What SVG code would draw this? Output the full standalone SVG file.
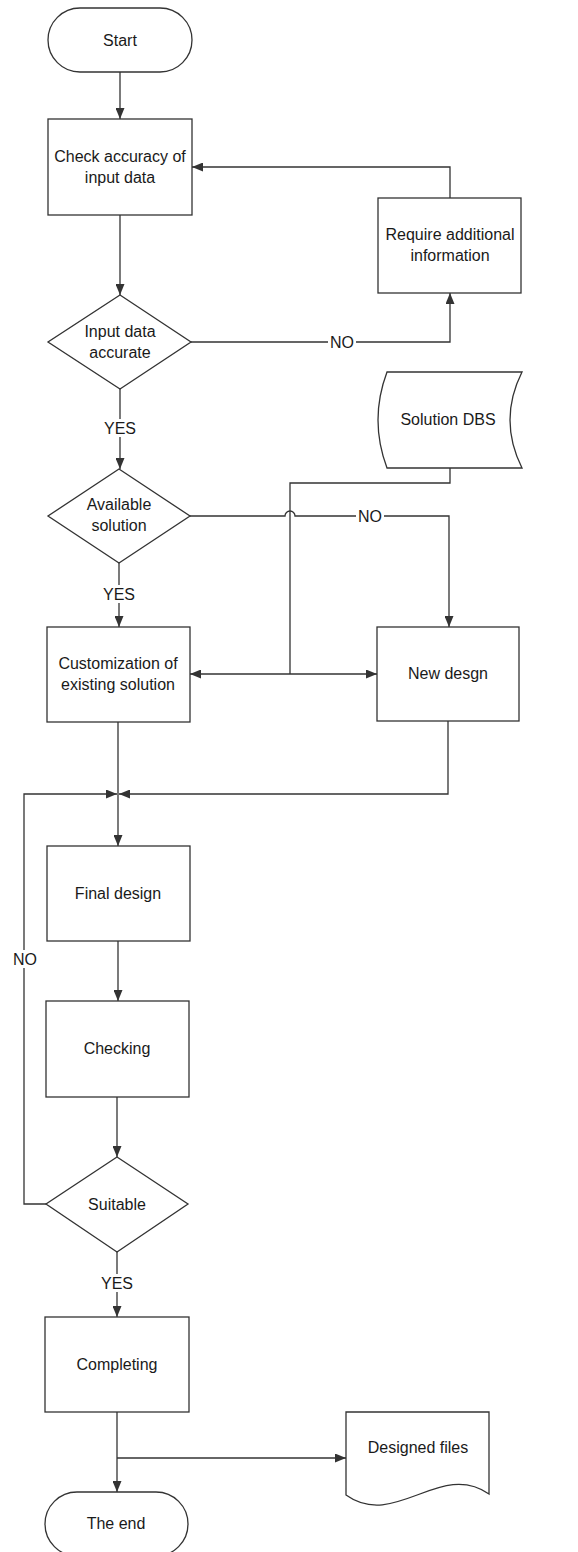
<svg xmlns="http://www.w3.org/2000/svg" width="578" height="1552" viewBox="0 0 578 1552">
  <style>
    .shape { fill: #ffffff; stroke: #333333; stroke-width: 1.3; }
    .wire { fill: none; stroke: #333333; stroke-width: 1.3; }
    text { font-family: "Liberation Sans", Arial, sans-serif; font-size: 16px; fill: #1a1a1a; text-anchor: middle; }
    .lbl-bg { fill: #ffffff; stroke: none; }
  </style>
  <defs>
    <marker id="arrow" viewBox="0 0 11 9" refX="11" refY="4.5" markerWidth="11" markerHeight="9" markerUnits="userSpaceOnUse" orient="auto">
      <path d="M0,0 L11,4.5 L0,9 Z" fill="#333333"/>
    </marker>
  </defs>
  <rect width="578" height="1552" fill="#ffffff"/>

  <!-- connectors -->
  <g id="connectors">
    <line class="wire" x1="120" y1="72" x2="120" y2="119" marker-end="url(#arrow)"/>
    <line class="wire" x1="120" y1="215" x2="120" y2="295" marker-end="url(#arrow)"/>
    <polyline class="wire" points="191,342 450,342 450,293" marker-end="url(#arrow)"/>
    <polyline class="wire" points="450,198 450,167 192,167" marker-end="url(#arrow)"/>
    <line class="wire" x1="120" y1="389" x2="120" y2="469" marker-end="url(#arrow)"/>
    <path class="wire" d="M190,516 H285 A5,5 0 0 1 295,516 H449 V627" marker-end="url(#arrow)"/>
    <polyline class="wire" points="450,468 450,483 290,483 290,674"/>
    <line class="wire" x1="290" y1="674" x2="190" y2="674" marker-end="url(#arrow)"/>
    <line class="wire" x1="290" y1="674" x2="377" y2="674" marker-end="url(#arrow)"/>
    <line class="wire" x1="119" y1="563" x2="119" y2="627" marker-end="url(#arrow)"/>
    <line class="wire" x1="118" y1="722" x2="118" y2="846" marker-end="url(#arrow)"/>
    <polyline class="wire" points="448,721 448,794 119,794" marker-end="url(#arrow)"/>
    <polyline class="wire" points="46,1204 24,1204 24,794 117,794" marker-end="url(#arrow)"/>
    <line class="wire" x1="118" y1="941" x2="118" y2="1001" marker-end="url(#arrow)"/>
    <line class="wire" x1="117" y1="1097" x2="117" y2="1157" marker-end="url(#arrow)"/>
    <line class="wire" x1="117" y1="1252" x2="117" y2="1317" marker-end="url(#arrow)"/>
    <line class="wire" x1="117" y1="1412" x2="117" y2="1492" marker-end="url(#arrow)"/>
    <line class="wire" x1="117" y1="1458" x2="346" y2="1458" marker-end="url(#arrow)"/>

    <!-- connector labels -->
    <rect class="lbl-bg" x="328" y="333" width="28" height="18"/>
    <text x="342" y="348">NO</text>
    <rect class="lbl-bg" x="104" y="419" width="32" height="18"/>
    <text x="120" y="434">YES</text>
    <rect class="lbl-bg" x="356" y="507" width="28" height="18"/>
    <text x="370" y="522">NO</text>
    <rect class="lbl-bg" x="103" y="585" width="32" height="18"/>
    <text x="119" y="600">YES</text>
    <rect class="lbl-bg" x="11" y="950" width="28" height="18"/>
    <text x="25" y="965">NO</text>
    <rect class="lbl-bg" x="101" y="1274" width="32" height="18"/>
    <text x="117" y="1289">YES</text>
  </g>

  <g id="start">
    <rect class="shape" x="48" y="8" width="144" height="64" rx="32"/>
    <text x="120" y="46">Start</text>
  </g>

  <g id="check-accuracy">
    <rect class="shape" x="48" y="119" width="144" height="96"/>
    <text x="120" y="162">Check accuracy of</text>
    <text x="120" y="183">input data</text>
  </g>

  <g id="require-info">
    <rect class="shape" x="378" y="198" width="143" height="95"/>
    <text x="450" y="240">Require additional</text>
    <text x="450" y="261">information</text>
  </g>

  <g id="input-accurate">
    <polygon class="shape" points="120,295 191,342 120,389 48,342"/>
    <text x="120" y="337">Input data</text>
    <text x="120" y="358">accurate</text>
  </g>

  <g id="solution-dbs">
    <path class="shape" d="M387,372 L522,372 Q498,420 522,468 L387,468 Q369,420 387,372 Z"/>
    <text x="448" y="425">Solution DBS</text>
  </g>

  <g id="available-solution">
    <polygon class="shape" points="119,469 190,516 119,563 48,516"/>
    <text x="119" y="510">Available</text>
    <text x="119" y="531">solution</text>
  </g>

  <g id="customization">
    <rect class="shape" x="47" y="627" width="143" height="95"/>
    <text x="118" y="669">Customization of</text>
    <text x="118" y="690">existing solution</text>
  </g>

  <g id="new-design">
    <rect class="shape" x="377" y="627" width="142" height="94"/>
    <text x="448" y="679">New desgn</text>
  </g>

  <g id="final-design">
    <rect class="shape" x="47" y="846" width="143" height="95"/>
    <text x="118" y="899">Final design</text>
  </g>

  <g id="checking">
    <rect class="shape" x="46" y="1001" width="143" height="96"/>
    <text x="117" y="1054">Checking</text>
  </g>

  <g id="suitable">
    <polygon class="shape" points="117,1157 188,1204 117,1252 46,1204"/>
    <text x="117" y="1210">Suitable</text>
  </g>

  <g id="completing">
    <rect class="shape" x="45" y="1317" width="144" height="95"/>
    <text x="117" y="1370">Completing</text>
  </g>

  <g id="designed-files">
    <path class="shape" d="M346,1412 H489 V1494 C440,1460 395,1530 346,1495 Z"/>
    <text x="418" y="1453">Designed files</text>
  </g>

  <g id="the-end">
    <rect class="shape" x="45" y="1492" width="143" height="64" rx="32"/>
    <text x="116" y="1529">The end</text>
  </g>
</svg>
